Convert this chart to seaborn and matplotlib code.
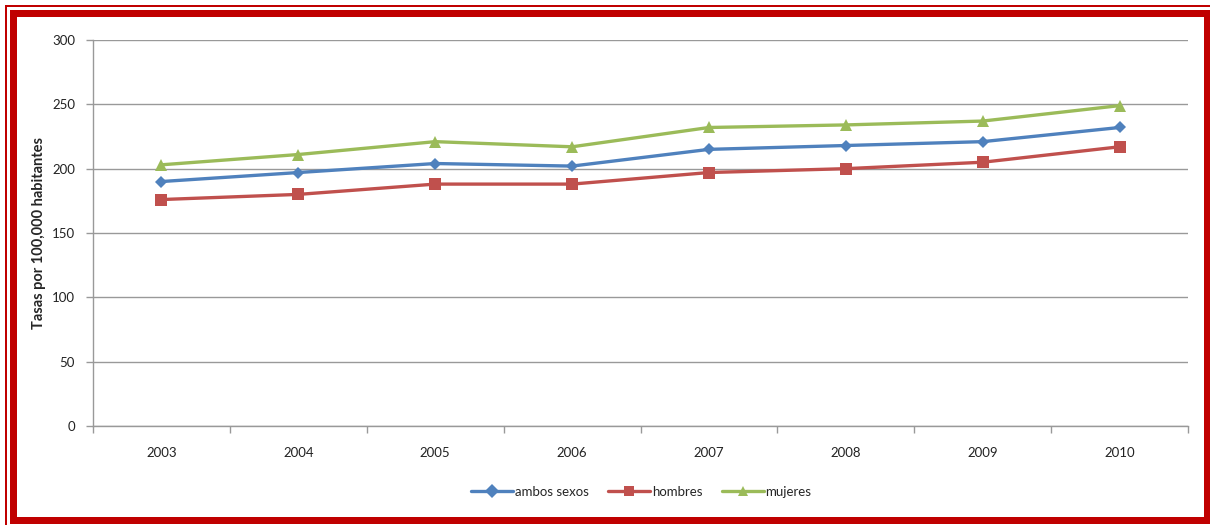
import pandas as pd
import seaborn as sns
import matplotlib.pyplot as plt
from matplotlib.patches import Rectangle
import numpy as np

years = [2003, 2004, 2005, 2006, 2007, 2008, 2009, 2010]
ambos_sexos = [190, 197, 204, 202, 215, 218, 221, 232]
hombres = [176, 180, 188, 188, 197, 200, 205, 217]
mujeres = [203, 211, 221, 217, 232, 234, 237, 249]
series_names = ['ambos sexos', 'hombres', 'mujeres']
y_ticks = [0, 50, 100, 150, 200, 250, 300]

df = pd.DataFrame({
    'year': years * 3,
    'value': ambos_sexos + hombres + mujeres,
    'serie': np.repeat(series_names, len(years)),
})

sns.set_theme(style='white')
plt.rcParams['font.family'] = ['Lato', 'DejaVu Sans']

palette = {'ambos sexos': '#4F81BD', 'hombres': '#C0504D', 'mujeres': '#9BBB59'}
markers = {'ambos sexos': 'D', 'hombres': 's', 'mujeres': '^'}

fig = plt.figure(figsize=(12.1, 5.25), dpi=100)
ax = fig.add_axes([0.0769, 0.1886, 0.9049, 0.7352])

sns.lineplot(data=df, x='year', y='value', hue='serie', style='serie',
             palette=palette, markers=markers, dashes=False, linewidth=2.4,
             markersize=7, markeredgewidth=0, ax=ax)
# make square/triangle a bit bigger than diamond
for line, ms in zip(ax.lines[:3], [6, 8, 8.5]):
    line.set_markersize(ms)

ax.set_xlim(years[0] - 0.5, years[-1] + 0.5)
ax.set_ylim(0, 300)
ax.set_yticks(y_ticks)
ax.set_xticks(years)
ax.set_xticks(np.arange(years[0] - 0.5, years[-1] + 1, 1), minor=True)
ax.tick_params(axis='x', which='major', length=0, pad=15, labelsize=9.5, labelcolor='#222222')
ax.tick_params(axis='x', which='minor', length=5, width=1, color='#999999', direction='out', bottom=True)
ax.tick_params(axis='y', length=5, width=1, color='#999999', direction='out', left=True,
               labelsize=9.5, labelcolor='#222222', pad=8)
ax.yaxis.grid(True, color='#999999', linewidth=1)
ax.set_axisbelow(True)
for s in ['top', 'right']:
    ax.spines[s].set_visible(False)
for s in ['left', 'bottom']:
    ax.spines[s].set_color('#999999')
    ax.spines[s].set_linewidth(1)
ax.set_xlabel('')
ax.set_ylabel('Tasas por 100,000 habitantes', fontsize=10.5, fontweight='bold', labelpad=4)

handles, labels = ax.get_legend_handles_labels()
ax.get_legend().remove()
fig.legend(handles, labels, loc='center', bbox_to_anchor=(0.53, 0.063), ncol=3,
           frameon=False, fontsize=9.5, handlelength=3.2, handletextpad=0.1, columnspacing=1.5)

# red frame
red = '#C00000'
W, H = 1210, 525
def px_rect(x, y, w, h):
    fig.patches.append(Rectangle((x / W, 1 - (y + h) / H), w / W, h / H,
                                 transform=fig.transFigure, color=red, lw=0, zorder=10))
px_rect(5, 5, 1205, 2)      # thin top line
px_rect(5, 5, 2, 520)       # thin left line
px_rect(10, 10, 1200, 7)    # thick top
px_rect(10, 10, 7, 514)     # thick left
px_rect(10, 517, 1200, 7)   # thick bottom
px_rect(1204, 10, 6, 514)   # thick right

fig.savefig('out.png', dpi=100)
